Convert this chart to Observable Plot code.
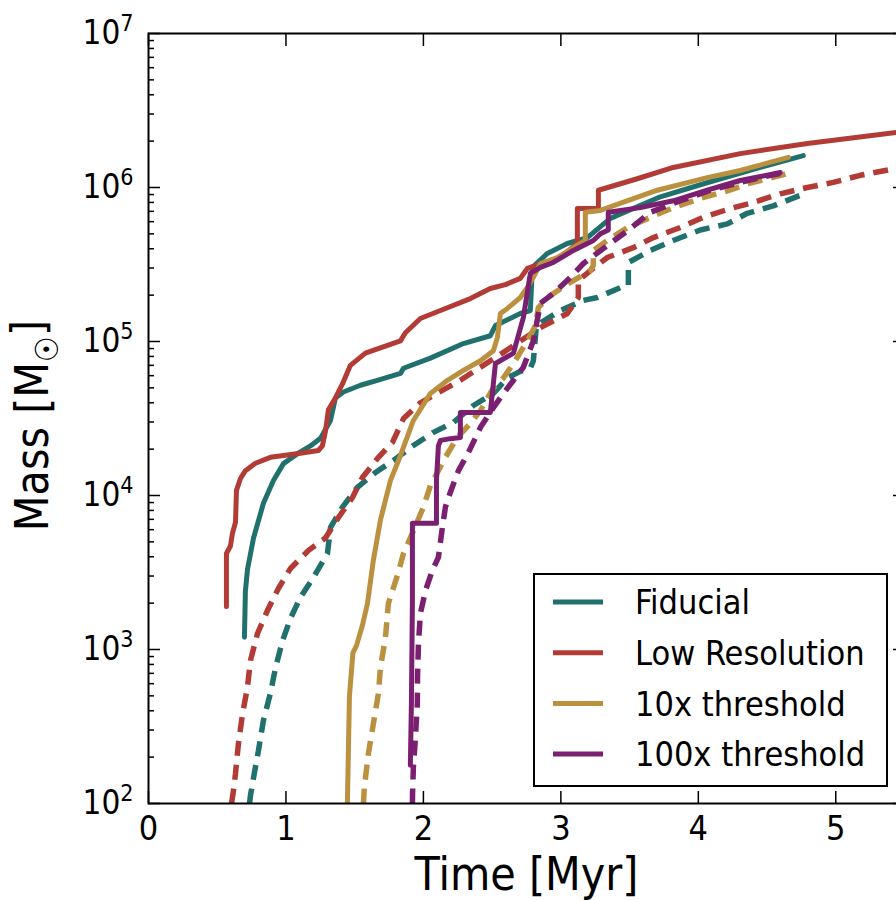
<!DOCTYPE html>
<html><head><meta charset="utf-8">
<script src="https://cdn.jsdelivr.net/npm/d3@7"></script>
<script src="https://cdn.jsdelivr.net/npm/@observablehq/plot@0.6"></script>
<style>
body{margin:0;background:#fff;overflow:hidden;}
#chart svg{display:block;}
</style></head><body><div id="chart"></div>
<script>
const seriesNames = ["Fiducial", "Low Resolution", "10x threshold", "100x threshold"];
const seriesColors = ["#20716d", "#b23b36", "#bb9140", "#7b1f71"];

const xTicks = [0, 1, 2, 3, 4, 5];
const yTicks = [1e2, 1e3, 1e4, 1e5, 1e6, 1e7];

// Fiducial
const fidSolidT = [0.698,0.705,0.72,0.764,0.836,0.909,0.982,1.084,1.178,1.251,1.324,1.36,1.418,1.542,1.665,1.833,1.855,2.051,2.291,2.487,2.524,2.705,2.778,2.793,2.902,3.047,3.193,3.36,3.724,4.087,4.451,4.764];
const fidSolidM = [1.2e3,2.4e3,3.3e3,5.3e3,8.9e3,1.25e4,1.61e4,1.87e4,2.1e4,2.35e4,3.07e4,4.3e4,4.7e4,5.2e4,5.6e4,6.2e4,6.7e4,7.8e4,9.7e4,1.09e5,1.27e5,1.52e5,1.59e5,3.03e5,3.73e5,4.33e5,4.73e5,6.3e5,8.7e5,1.09e6,1.35e6,1.61e6];
const fidDashT = [0.735,0.742,0.764,0.8,0.836,0.887,0.924,0.975,1.033,1.105,1.2,1.302,1.324,1.411,1.52,1.651,1.782,1.927,2.073,2.218,2.364,2.509,2.611,2.705,2.778,2.8,2.822,2.996,3.164,3.265,3.433,3.491,3.491,3.651,3.818,4.015,4.211,4.356,4.545,4.742];
const fidDashM = [1e2,1.13e2,1.47e2,2.21e2,3.46e2,5.2e2,7.6e2,1.14e3,1.59e3,2.18e3,2.94e3,4.2e3,6.2e3,8.4e3,1.13e4,1.41e4,1.69e4,2.11e4,2.57e4,2.98e4,3.84e4,4.6e4,5.8e4,6.4e4,6.7e4,7.5e4,1.27e5,1.59e5,1.85e5,1.93e5,2.24e5,2.31e5,3.26e5,3.9e5,4.53e5,5.3e5,5.8e5,6.8e5,7.6e5,8.9e5];

// Low Resolution
const lowSolidT = [0.567,0.567,0.596,0.611,0.633,0.64,0.669,0.705,0.778,0.887,1.105,1.236,1.265,1.287,1.309,1.36,1.411,1.469,1.578,1.687,1.833,1.869,1.978,2.124,2.342,2.487,2.596,2.705,2.756,2.887,2.996,3.12,3.12,3.273,3.273,3.556,3.818,4.305,4.793,5.44,5.5];
const lowSolidM = [1.9e3,4.2e3,4.7e3,5.7e3,6.7e3,1.08e4,1.29e4,1.45e4,1.62e4,1.77e4,1.88e4,1.96e4,2.1e4,2.6e4,3.6e4,4.3e4,5.3e4,7.0e4,8.4e4,9.1e4,1.01e5,1.14e5,1.41e5,1.59e5,1.9e5,2.21e5,2.34e5,2.57e5,2.98e5,3.26e5,3.51e5,4.33e5,7.3e5,7.3e5,9.6e5,1.14e6,1.35e6,1.66e6,1.93e6,2.28e6,2.31e6];
const lowDashT = [0.604,0.618,0.633,0.655,0.684,0.72,0.742,0.793,0.865,0.945,1.033,1.164,1.287,1.382,1.484,1.556,1.673,1.775,1.855,1.978,2.269,2.582,2.851,3.047,3.127,3.127,3.215,3.338,3.527,3.673,3.869,4.036,4.233,4.4,4.596,4.793,4.982,5.178,5.44,5.5];
const lowDashM = [1e2,1.21e2,1.57e2,2.49e2,3.8e2,5.7e2,8.5e2,1.27e3,1.79e3,2.49e3,3.36e3,4.4e3,5.3e3,7.2e3,9.7e3,1.31e4,1.77e4,2.21e4,3.16e4,4.0e4,5.6e4,8.5e4,1.23e5,1.52e5,1.93e5,2.49e5,2.89e5,3.51e5,4.07e5,4.73e5,5.5e5,6.4e5,7.3e5,8.0e5,9.1e5,1.0e6,1.08e6,1.2e6,1.33e6,1.36e6];

// 10x threshold
const tenSolidT = [1.447,1.462,1.487,1.513,1.556,1.593,1.636,1.687,1.76,1.833,1.927,2.051,2.175,2.291,2.415,2.509,2.538,2.56,2.611,2.705,2.756,2.8,2.851,2.975,3.091,3.178,3.178,3.287,3.702,4.065,4.305,4.655];
const tenSolidM = [1e2,5.0e2,9.5e2,1.06e3,1.43e3,1.99e3,3.8e3,6.9e3,1.25e4,1.82e4,3.07e4,4.6e4,5.6e4,6.5e4,7.5e4,8.7e4,1.06e5,1.52e5,1.64e5,1.93e5,2.24e5,2.61e5,3.21e5,3.51e5,4.07e5,4.53e5,6.9e5,7.1e5,9.6e5,1.16e6,1.29e6,1.57e6];
const tenDashT = [1.564,1.57,1.6,1.636,1.673,1.687,1.724,1.745,1.775,1.811,1.855,1.927,2.0,2.051,2.16,2.247,2.342,2.415,2.509,2.582,2.655,2.756,2.815,2.836,2.924,3.069,3.215,3.236,3.236,3.338,3.484,3.651,3.818,4.015,4.211,4.378,4.647];
const tenDashM = [1e2,1.27e2,2.11e2,3.3e2,5.2e2,7.6e2,1.2e3,1.99e3,2.41e3,3.03e3,4.2e3,5.9e3,8.4e3,1.16e4,1.77e4,2.38e4,2.94e4,3.56e4,5.0e4,5.8e4,7.2e4,1.01e5,1.27e5,1.66e5,1.99e5,2.42e5,2.89e5,3.12e5,3.9e5,4.53e5,5.5e5,6.4e5,7.4e5,8.5e5,9.5e5,1.07e6,1.23e6];

// 100x threshold
const hunSolidT = [1.905,1.913,1.92,1.92,2.095,2.095,2.109,2.124,2.196,2.269,2.269,2.487,2.524,2.655,2.727,2.778,2.851,2.945,3.091,3.236,3.287,3.345,3.345,3.578,3.818,4.065,4.305,4.596];
const hunSolidM = [1.77e2,4.7e2,2.1e3,6.6e3,6.6e3,1.25e4,2.1e4,2.28e4,2.34e4,2.38e4,3.46e4,3.46e4,7.2e4,8.4e4,1.43e5,2.77e5,3.03e5,3.26e5,3.9e5,4.53e5,5.0e5,5.3e5,6.9e5,7.4e5,8.2e5,9.6e5,1.11e6,1.25e6];
const hunDashT = [1.92,1.921,1.927,1.942,1.956,1.957,1.964,1.978,2.015,2.065,2.109,2.138,2.16,2.196,2.255,2.327,2.415,2.509,2.582,2.655,2.727,2.8,2.851,2.945,3.069,3.164,3.338,3.505,3.651,3.869,4.087,4.305,4.524,4.596];
const hunDashM = [1e2,1.16e2,1.71e2,2.68e2,4.5e2,6.6e2,1.09e3,1.71e3,2.41e3,3.26e3,3.96e3,6.2e3,8.4e3,1.05e4,1.45e4,1.9e4,2.77e4,3.72e4,4.6e4,5.6e4,6.8e4,1.01e5,1.77e5,2.05e5,2.61e5,3.21e5,4.2e5,5.4e5,6.9e5,8.2e5,9.6e5,1.08e6,1.2e6,1.23e6];

const runs = [
  {series: "Fiducial", solid: [fidSolidT, fidSolidM], dashed: [fidDashT, fidDashM]},
  {series: "Low Resolution", solid: [lowSolidT, lowSolidM], dashed: [lowDashT, lowDashM]},
  {series: "10x threshold", solid: [tenSolidT, tenSolidM], dashed: [tenDashT, tenDashM]},
  {series: "100x threshold", solid: [hunSolidT, hunSolidM], dashed: [hunDashT, hunDashM]}
];
const toRows = (series, kind, [T, M]) => T.map((t, i) => ({series, kind, t, m: M[i]}));

const yMinor = [];
for (let e = 2; e < 7; e++) for (let k = 2; k <= 9; k++) yMinor.push(k * 10 ** e);

const FONT = "'DejaVu Sans Condensed', 'DejaVu Sans', sans-serif";

const lineMarks = [];
for (const r of runs) {
  lineMarks.push(Plot.line(toRows(r.series, "solid", r.solid), {x: "t", y: "m", stroke: "series", strokeWidth: 5, clip: true}));
  lineMarks.push(Plot.line(toRows(r.series, "dashed", r.dashed), {x: "t", y: "m", stroke: "series", strokeWidth: 5.5, strokeDasharray: "15,9", strokeLinecap: "butt", strokeLinejoin: "miter", clip: true}));
}

const plot = Plot.plot({
  width: 896, height: 901,
  marginLeft: 148, marginRight: -8, marginTop: 33, marginBottom: 98,
  style: {fontFamily: FONT, background: "white", color: "black", fontStretch: "condensed"},
  x: {domain: [0, 5.5]},
  y: {type: "log", domain: [1e2, 1e7]},
  color: {domain: seriesNames, range: seriesColors},
  marks: [
    ...lineMarks,
    Plot.frame({stroke: "black", strokeWidth: 2}),
    Plot.axisX(xTicks, {anchor: "bottom", tickSize: 0, tickPadding: 12, fontSize: 34, label: null, tickFormat: d => String(d)}),
    Plot.axisX(xTicks, {anchor: "bottom", tickSize: 12, dy: -12, fill: "none", label: null, strokeWidth: 1.5}),
    Plot.axisX(xTicks, {anchor: "top", tickSize: 12, dy: 12, fill: "none", label: null, strokeWidth: 1.5}),
    Plot.axisY(yTicks, {anchor: "left", tickSize: 0, tickPadding: 15, fontSize: 33, label: null, tickFormat: d => "10^" + Math.round(Math.log10(d))}),
    Plot.axisY(yTicks, {anchor: "left", tickSize: 12, dx: 12, fill: "none", label: null, strokeWidth: 1.5}),
    Plot.axisY(yMinor, {anchor: "left", tickSize: 6, dx: 6, fill: "none", label: null, strokeWidth: 1.5}),
    Plot.axisY(yTicks, {anchor: "right", tickSize: 12, dx: -12, fill: "none", label: null, strokeWidth: 1.5}),
    Plot.axisY(yMinor, {anchor: "right", tickSize: 6, dx: -6, fill: "none", label: null, strokeWidth: 1.5}),
    Plot.text(["Time [Myr]"], {frameAnchor: "bottom", dy: 86, fontSize: 46, fill: "black", textAnchor: "middle"}),
    Plot.text(["Mass [M_☉]"], {frameAnchor: "left", dx: -115, dy: 7, rotate: -90, fontSize: 46, fill: "black", textAnchor: "middle"})
  ]
});
document.getElementById("chart").append(plot);

const svg = d3.select(plot);
// superscript exponents on y tick labels, subscript sun symbol on the y label
svg.selectAll("text").each(function() {
  const t = this.textContent;
  const m = /^10\^(\d+)$/.exec(t);
  if (m) {
    const el = d3.select(this);
    el.text("10");
    el.append("tspan").attr("dy", "-0.55em").attr("font-size", "0.7em").text(m[1]);
    return;
  }
  if (t === "Mass [M_☉]") {
    const el = d3.select(this);
    el.text("Mass [M");
    el.append("tspan").attr("dy", "0.3em").attr("font-size", "0.7em").text("☉");
    el.append("tspan").attr("dy", "-0.3em").text("]");
  }
});

// legend (inside the plot, lower right)
const lg = svg.append("g").attr("font-family", FONT).attr("font-size", 34).attr("text-anchor", "start");
lg.append("rect").attr("x", 534).attr("y", 574).attr("width", 353).attr("height", 212)
  .attr("fill", "white").attr("stroke", "black").attr("stroke-width", 2);
seriesNames.forEach((name, i) => {
  const y = 602 + i * 50.7;
  lg.append("line").attr("x1", 553).attr("x2", 603).attr("y1", y).attr("y2", y)
    .attr("stroke", seriesColors[i]).attr("stroke-width", 5);
  lg.append("text").attr("x", 635).attr("y", y).attr("dy", "0.36em").attr("fill", "black")
    .attr("text-anchor", "start").style("font-stretch", "condensed").text(name);
});
</script>
</body></html>
